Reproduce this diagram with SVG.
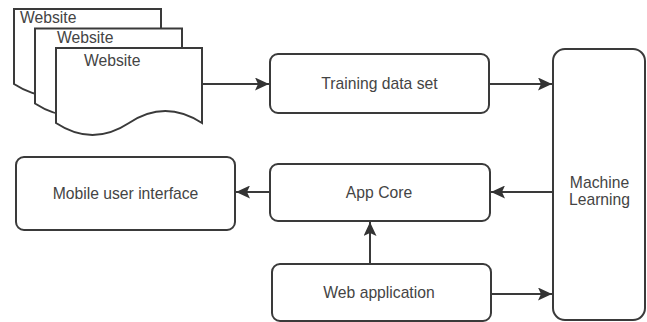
<svg xmlns="http://www.w3.org/2000/svg" width="647" height="322" viewBox="0 0 647 322">
<defs>
<marker id="arr" viewBox="0 0 14 13" refX="14" refY="6.5" markerWidth="14" markerHeight="13" markerUnits="userSpaceOnUse" orient="auto">
<path d="M0,0 L14,6.5 L0,13 L3,6.5 Z" fill="#333"/>
</marker>
<style>
.box{fill:#fff;stroke:#3a3a3a;stroke-width:2}
.doc{fill:#fff;stroke:#3a3a3a;stroke-width:2;stroke-linejoin:miter}
.t{font-family:"Liberation Sans",Arial,sans-serif;font-size:15.7px;fill:#444}
.c{text-anchor:middle}
.ln{fill:none;stroke:#3a3a3a;stroke-width:2}
</style>
</defs>
<rect width="647" height="322" fill="#fff"/>
<g id="website1">
<path class="doc" d="M14,9 L161,9 L161,84 Q124,60 87,84 Q51,108 14,84 Z"/>
<text class="t" x="20" y="23">Website</text>
</g>
<g id="website2">
<path class="doc" d="M35,28.5 L182,28.5 L182,103.5 Q145,79.5 108,103.5 Q72,127.5 35,103.5 Z"/>
<text class="t" x="57" y="43">Website</text>
</g>
<g id="website3">
<path class="doc" d="M56,48 L202,48 L202,123 Q165,99 129,123 Q92.5,147 56,123 Z"/>
<text class="t" x="84" y="66">Website</text>
</g>
<g id="training">
<rect class="box" x="270" y="54" width="219" height="59" rx="8"/>
<text class="t c" x="379.5" y="89">Training data set</text>
</g>
<g id="ml">
<rect class="box" x="553" y="49" width="92" height="271" rx="12"/>
<text class="t c" x="599.5" y="188">Machine</text>
<text class="t c" x="599.5" y="205">Learning</text>
</g>
<g id="appcore">
<rect class="box" x="270" y="164" width="220" height="57" rx="8"/>
<text class="t c" x="379" y="197.5">App Core</text>
</g>
<g id="mobile">
<rect class="box" x="16" y="157" width="219" height="73" rx="8"/>
<text class="t c" x="125.5" y="198.5">Mobile user interface</text>
</g>
<g id="webapp">
<rect class="box" x="272" y="264" width="219" height="57" rx="8"/>
<text class="t c" x="379" y="298">Web application</text>
</g>
<g id="connectors">
<path class="ln" d="M202,84 L269,84" marker-end="url(#arr)"/>
<path class="ln" d="M489,84 L552,84" marker-end="url(#arr)"/>
<path class="ln" d="M553,192 L491,192" marker-end="url(#arr)"/>
<path class="ln" d="M270,192 L236,192" marker-end="url(#arr)"/>
<path class="ln" d="M370,264 L370,222" marker-end="url(#arr)"/>
<path class="ln" d="M491,294 L552,294" marker-end="url(#arr)"/>
</g>
</svg>
